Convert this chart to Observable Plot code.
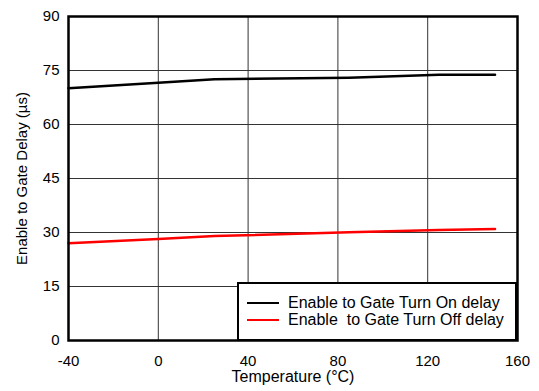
<!DOCTYPE html>
<html><head><meta charset="utf-8">
<script src="https://cdn.jsdelivr.net/npm/d3@7"></script>
<script src="https://cdn.jsdelivr.net/npm/@observablehq/plot@0.6"></script>
<style>
body{margin:0;background:#fff;}
#wrap{position:relative;width:539px;height:391px;font-family:"Liberation Sans",Arial,sans-serif;}
#legend{position:absolute;left:237px;top:282px;width:276px;height:55px;border:2px solid #000;background:#fff;font-size:16px;color:#000;}
.row{position:absolute;left:8px;display:flex;align-items:center;white-space:pre;height:18px;line-height:18px;}
.sw{width:32px;height:0;border-top:2.5px solid;margin-right:9px;}
svg text{-webkit-font-smoothing:antialiased;}
</style>
</head><body><div id="wrap"><div id="legend"></div></div>
<script>
const tempOn = [-40, 0, 25, 85, 125, 150];
const delayOn = [70.1, 71.6, 72.6, 73.0, 73.8, 73.8];
const tempOff = [-40, 0, 25, 85, 125, 150];
const delayOff = [27.0, 28.2, 29.0, 30.1, 30.7, 31.0];
const seriesNames = ["Enable to Gate Turn On delay", "Enable  to Gate Turn Off delay"];
const seriesColors = ["#000000", "#ff0000"];
const xTicks = [-40, 0, 40, 80, 120, 160];
const yTicks = [0, 15, 30, 45, 60, 75, 90];

const on = tempOn.map((t, i) => ({t, v: delayOn[i]}));
const off = tempOff.map((t, i) => ({t, v: delayOff[i]}));

const chart = Plot.plot({
  width: 539, height: 391,
  marginLeft: 68, marginRight: 22, marginTop: 16, marginBottom: 51,
  style: {fontFamily: '"Liberation Sans", Arial, sans-serif', fontSize: "15px", color: "#000", background: "#fff"},
  x: {domain: [-40, 160]},
  y: {domain: [0, 90]},
  marks: [
    Plot.gridX(xTicks, {stroke: "#333", strokeOpacity: 1, strokeWidth: 1}),
    Plot.gridY(yTicks, {stroke: "#333", strokeOpacity: 1, strokeWidth: 1}),
    Plot.axisX(xTicks, {tickSize: 0, tickPadding: 15, fontSize: 15, fill: "#000", label: null, tickFormat: d => String(d)}),
    Plot.axisX({tickSize: 0, ticks: [], fill: "#000", label: "Temperature (°C)", labelAnchor: "center", labelOffset: 41, labelArrow: "none", fontSize: 16}),
    Plot.axisY(yTicks, {tickSize: 0, tickPadding: 9, fontSize: 15, fill: "#000", label: null}),
    Plot.axisY({tickSize: 0, ticks: [], fill: "#000", label: "Enable to Gate Delay (µs)", labelAnchor: "center", labelOffset: 52, labelArrow: "none", fontSize: 15}),
    Plot.line(on, {x: "t", y: "v", stroke: seriesColors[0], strokeWidth: 2.5}),
    Plot.line(off, {x: "t", y: "v", stroke: seriesColors[1], strokeWidth: 2.5}),
    Plot.frame({stroke: "#000", strokeWidth: 2.5})
  ]
});
const wrap = document.getElementById("wrap");
wrap.insertBefore(chart, wrap.firstChild);
const lg = document.getElementById("legend");
seriesNames.forEach((n, i) => {
  const r = document.createElement("div");
  r.className = "row";
  r.style.top = (i === 0 ? 10 : 27) + "px";
  r.innerHTML = `<span class="sw" style="border-color:${seriesColors[i]}"></span><span>${n}</span>`;
  lg.appendChild(r);
});
</script></body></html>
